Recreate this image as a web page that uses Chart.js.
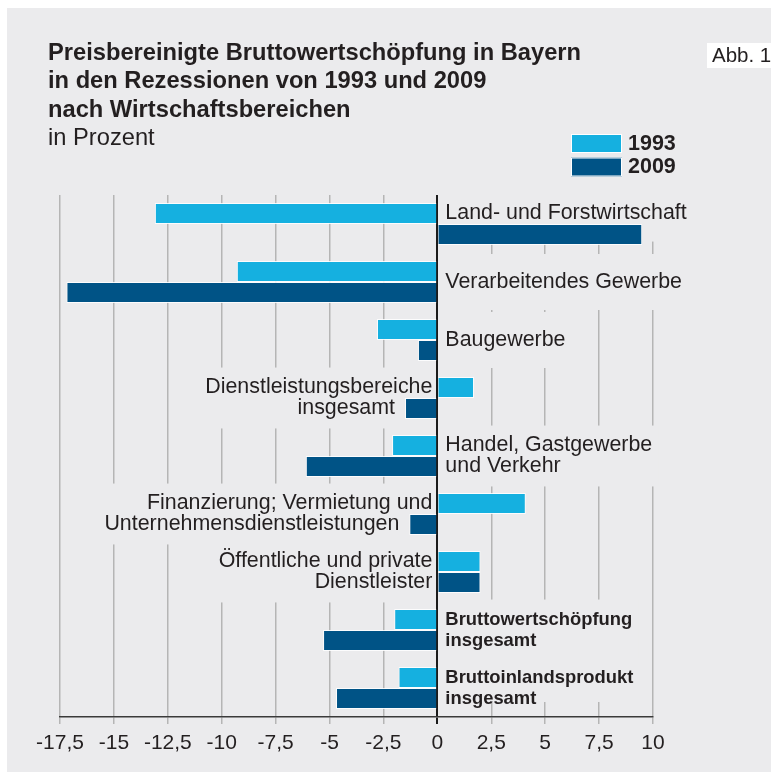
<!DOCTYPE html>
<html>
<head>
<meta charset="utf-8">
<script src="https://cdn.jsdelivr.net/npm/chart.js@4.4.1/dist/chart.umd.min.js"></script>
<style>
  body { margin: 0; background: #fff; }
  #wrap { width: 771px; height: 772px; }
</style>
</head>
<body>
<div id="wrap"><canvas id="myChart" width="771" height="772"></canvas></div>
<script>
const titleLines = ['Preisbereinigte Bruttowertschöpfung in Bayern', 'in den Rezessionen von 1993 und 2009', 'nach Wirtschaftsbereichen'];
const subTitle = 'in Prozent';
const figLabel = 'Abb. 1';

const categories = [
  'Land- und Forstwirtschaft',
  'Verarbeitendes Gewerbe',
  'Baugewerbe',
  'Dienstleistungsbereiche insgesamt',
  'Handel, Gastgewerbe und Verkehr',
  'Finanzierung; Vermietung und Unternehmensdienstleistungen',
  'Öffentliche und private Dienstleister',
  'Bruttowertschöpfung insgesamt',
  'Bruttoinlandsprodukt insgesamt'
];
// how the category names are broken in the print
const labelLines = [
  ['Land- und Forstwirtschaft'],
  ['Verarbeitendes Gewerbe'],
  ['Baugewerbe'],
  ['Dienstleistungsbereiche', 'insgesamt'],
  ['Handel, Gastgewerbe', 'und Verkehr'],
  ['Finanzierung; Vermietung und', 'Unternehmensdienstleistungen'],
  ['Öffentliche und private', 'Dienstleister'],
  ['Bruttowertschöpfung', 'insgesamt'],
  ['Bruttoinlandsprodukt', 'insgesamt']
];
const labelSide = ['right', 'right', 'right', 'left', 'right', 'left', 'left', 'right', 'right'];
const labelBold = [false, false, false, false, false, false, false, true, true];

const seriesNames = ['1993', '2009'];
const values1993 = [-13.1, -9.3, -2.8, 1.7, -2.1, 4.1, 2.0, -2.0, -1.8];
const values2009 = [9.5, -17.2, -0.9, -1.5, -6.1, -1.3, 2.0, -5.3, -4.7];
const xTicks = [-17.5, -15, -12.5, -10, -7.5, -5, -2.5, 0, 2.5, 5, 7.5, 10];

const colors = ['#15b0e0', '#005386'];
const bg = '#ebebed';
const ink = '#231f20';
const family = '"Liberation Sans", Arial, Helvetica, sans-serif';

// works out where each category label goes, next to the zero line
function labelPlaces(chart) {
  const ctx = chart.ctx;
  const zero = chart.scales.x.getPixelForValue(0);
  const m0 = chart.getDatasetMeta(0).data;
  const m1 = chart.getDatasetMeta(1).data;
  return labelLines.map((lines, i) => {
    const rows = [m0[i], m1[i]];
    const vals = [values1993[i], values2009[i]];
    const right = labelSide[i] === 'right';
    const font = labelBold[i] ? 'bold 18.4px ' + family : '21.4px ' + family;
    ctx.font = font;
    let items;
    if (lines.length === 2) {
      items = lines.map((t, r) => ({ text: t, row: r, y: rows[r].y }));
    } else {
      const free = [0, 1].filter(r => right ? vals[r] <= 0 : vals[r] >= 0);
      const y = free.length === 1 ? rows[free[0]].y : (rows[0].y + rows[1].y) / 2;
      items = [{ text: lines[0], row: free.length === 1 ? free[0] : -1, y: y }];
    }
    items.forEach(it => {
      it.w = ctx.measureText(it.text).width;
      if (right) {
        it.x = zero + 8;
      } else {
        let edge = zero - 5;
        if (it.row >= 0 && vals[it.row] < 0) edge = Math.min(edge, rows[it.row].x - 10);
        it.x = edge - it.w;
      }
    });
    return { items: items, font: font, right: right, zero: zero, pad: lines.length === 1 ? 18 : 10 };
  });
}

const panelPlugin = {
  id: 'panel',
  beforeDraw(chart) {
    const c = chart.ctx;
    c.save();
    c.fillStyle = '#fff';
    c.fillRect(0, 0, chart.width, chart.height);
    c.fillStyle = bg;
    c.fillRect(7, 8, chart.width - 7, chart.height - 8);
    c.restore();
  },
  // label patches hide the grid lines behind the text
  beforeDatasetsDraw(chart) {
    const c = chart.ctx;
    const area = chart.chartArea;
    c.save();
    c.fillStyle = bg;
    labelPlaces(chart).forEach(p => {
      const top = p.items[0].y - 10 - p.pad;
      const bottom = Math.min(p.items[p.items.length - 1].y + 10 + p.pad, area.bottom - 15);
      if (p.right) {
        const r = Math.max(...p.items.map(it => it.x + it.w)) + 6;
        c.fillRect(p.zero + 1.5, top, r - p.zero - 1.5, bottom - top);
      } else {
        const l = Math.min(...p.items.map(it => it.x)) - 6;
        c.fillRect(l, top, p.zero - 1.5 - l, bottom - top);
      }
    });
    c.restore();
  },
  afterDraw(chart) {
    const c = chart.ctx;
    c.save();
    c.fillStyle = ink;
    c.textBaseline = 'middle';
    // category labels
    labelPlaces(chart).forEach(p => {
      c.font = p.font;
      c.textAlign = 'left';
      p.items.forEach(it => c.fillText(it.text, it.x, it.y));
    });
    // title
    c.font = 'bold 23.7px ' + family;
    titleLines.forEach((t, i) => c.fillText(t, 48, 53 + i * 28.5));
    c.font = '23.7px ' + family;
    c.fillText(subTitle, 48, 138);
    // figure number
    c.fillStyle = '#fff';
    c.fillRect(707, 43, 64, 25);
    c.fillStyle = ink;
    c.font = '20.5px ' + family;
    c.fillText(figLabel, 712, 56);
    // legend
    seriesNames.forEach((name, i) => {
      const y = 134 + i * 23.5;
      c.fillStyle = colors[i];
      c.fillRect(571, y, 51, 19);
      c.strokeStyle = '#fff';
      c.lineWidth = 1;
      c.strokeRect(571.5, y + 0.5, 50, 18);
      c.fillStyle = ink;
      c.font = 'bold 21.5px ' + family;
      c.fillText(name, 628, y + 10);
    });
    c.restore();
  }
};

new Chart(document.getElementById('myChart'), {
  type: 'bar',
  data: {
    labels: categories,
    datasets: [
      { label: seriesNames[0], data: values1993, backgroundColor: colors[0] },
      { label: seriesNames[1], data: values2009, backgroundColor: colors[1] }
    ]
  },
  options: {
    indexAxis: 'y',
    responsive: false,
    animation: false,
    layout: { padding: { left: 60, right: 118, top: 195, bottom: 10 } },
    datasets: {
      bar: {
        categoryPercentage: 0.72,
        barPercentage: 1,
        borderWidth: 1,
        borderColor: 'rgba(255,255,255,0.85)'
      }
    },
    plugins: {
      legend: { display: false },
      tooltip: { enabled: false },
      title: { display: false }
    },
    scales: {
      y: { display: false },
      x: {
        min: -17.5,
        max: 10,
        afterBuildTicks: s => { s.ticks = xTicks.map(v => ({ value: v })); },
        afterFit: s => { s.height = 45; },
        ticks: {
          callback: v => String(v).replace('.', ','),
          font: { size: 21, family: family },
          color: ink,
          padding: 7,
          maxRotation: 0,
          autoSkip: false
        },
        grid: {
          color: c => c.tick && c.tick.value === 0 ? '#1b1b1b' : '#b5b5b5',
          lineWidth: c => c.tick && c.tick.value === 0 ? 2 : 1.5,
          tickLength: 7
        },
        border: { color: '#3a3a3a', width: 1.5 }
      }
    }
  },
  plugins: [panelPlugin]
});
</script>
</body>
</html>
